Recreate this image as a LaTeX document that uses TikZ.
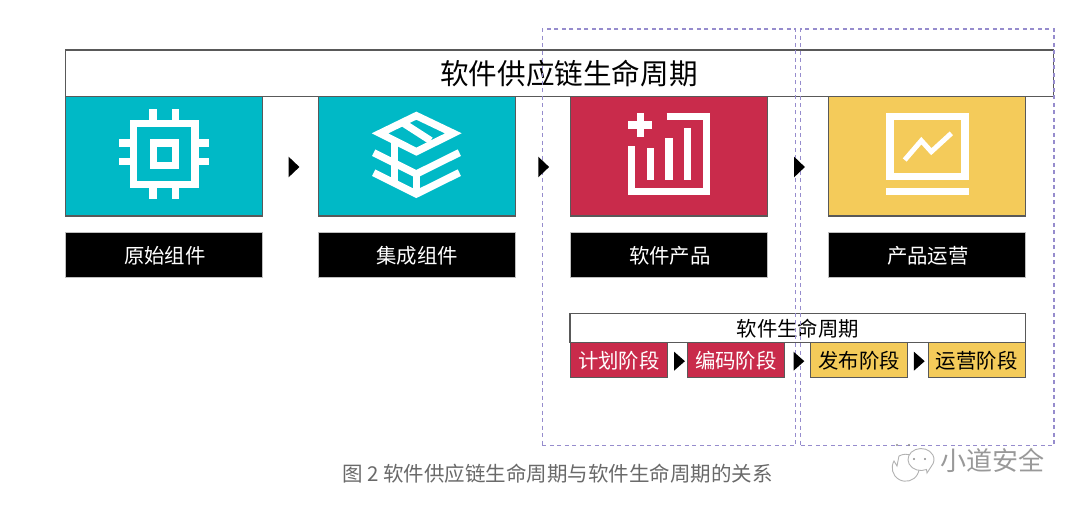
\documentclass[tikz,border=0pt]{standalone}
\usepackage{fontspec}
\setmainfont{Noto Sans CJK SC}
\definecolor{tealbox}{RGB}{0,185,198}
\definecolor{redbox}{RGB}{201,43,75}
\definecolor{yellowbox}{RGB}{244,203,90}
\definecolor{dashpurple}{RGB}{150,140,205}
\definecolor{captiongray}{RGB}{105,105,105}
\usetikzlibrary{
  shapes.geometric,
  positioning
}

\begin{document}
\begin{tikzpicture}[
  x=1pt, y=-1pt,
  titlebox/.style={rectangle, draw=black!65, fill=white, line width=1.2pt, inner sep=0pt, outer sep=0pt},
  imgbox/.style={rectangle, draw=black!65, line width=1.2pt, minimum width=197pt, minimum height=119.3pt, inner sep=0pt, outer sep=0pt},
  namebox/.style={rectangle, draw=black!25, fill=black, text=white, line width=.6pt, minimum width=197pt, minimum height=44.6pt, text height=17pt, text depth=1pt, font=\fontsize{20.4}{24}\selectfont, inner sep=0pt, outer sep=0pt},
  stagebox/.style={rectangle, draw=black!65, line width=1.2pt, minimum width=97pt, minimum height=35pt, text height=18pt, text depth=1pt, font=\fontsize{20.4}{24}\selectfont, inner sep=0pt, outer sep=0pt},
  bigtri/.style={isosceles triangle, isosceles triangle apex angle=60, isosceles triangle stretches, fill=black, minimum width=20.6pt, minimum height=10.8pt, inner sep=0pt, outer sep=0pt},
  smalltri/.style={bigtri, minimum width=19pt},
  dashbox/.style={rectangle, draw=dashpurple, dash pattern=on 4pt off 3.5pt, line width=1.3pt, inner sep=0pt, outer sep=0pt},
  icon/.style={draw=white, line width=7.3pt, miter limit=10},
  bubble/.style={draw=black!30, line width=.9pt, fill=white}
]
  \useasboundingbox (0,0) rectangle (1080,506);

  \node[imgbox, fill=tealbox] (raw) at (164.2,156.4) {};
  \node[imgbox, fill=tealbox] (integ) at (416.6,156.4) {};
  \node[imgbox, fill=redbox] (product) at (669.2,156.4) {};
  \node[imgbox, fill=yellowbox] (oper) at (927.2,156.4) {};

  \node[titlebox, minimum width=987.5pt, minimum height=46.7pt, text height=24pt, text depth=2pt, font=\fontsize{28.6}{34}\selectfont] (scl) at (559.5,73.4) {\hspace*{19pt}软件供应链生命周期};

  \node[namebox] (rawname) at (164.2,255) {\hspace*{1.5pt}原始组件};
  \node[namebox] (integname) at (416.6,255) {\hspace*{1.5pt}集成组件};
  \node[namebox] (productname) at (669.2,255) {\hspace*{1.5pt}软件产品};
  \node[namebox] (opername) at (927.2,255) {\hspace*{1.5pt}产品运营};

  \node[titlebox, minimum width=455.5pt, minimum height=29.4pt, text height=17pt, text depth=1pt, font=\fontsize{20.4}{24}\selectfont] (sdl) at (797.8,328) {软件生命周期};
  \node[stagebox, fill=redbox, text=white] (plan) at (618.8,360.2) {计划阶段};
  \node[stagebox, fill=redbox, text=white] (code) at (735.8,360.2) {编码阶段};
  \node[stagebox, fill=yellowbox] (release) at (859.2,360.2) {发布阶段};
  \node[stagebox, fill=yellowbox] (run) at (976.6,360.2) {运营阶段};

  \begin{scope}[shift={(110,100)}, scale=1/3]
    \draw[icon] (71,71) rectangle (255,254);
    \draw[icon] (130,129) rectangle (197,197);
    \foreach \p in {129,196} {
      \draw[icon] (\p,28) -- (\p,60);
      \draw[icon] (\p,265) -- (\p,296);
    }
    \foreach \p in {129,185} {
      \draw[icon] (28,\p) -- (60,\p);
      \draw[icon] (265,\p) -- (296,\p);
    }
  \end{scope}

  \begin{scope}[shift={(362,100)}, scale=1/3]
    \draw[icon] (163,47) -- (274,100) -- (163,155) -- (54,100) -- cycle;
    \draw[icon] (122,68) -- (206,122);
    \draw[icon] (35,158) -- (163,222) -- (292,158);
    \draw[icon] (35,218) -- (163,282) -- (292,218);
    \draw[icon] (97,125) -- (97,250);
    \draw[icon] (163,220) -- (163,280);
  \end{scope}

  \begin{scope}[shift={(615,100)}, scale=1/3]
    \draw[icon] (155,50) -- (275,50) -- (275,275) -- (50,275) -- (50,138);
    \draw[icon] (107,145) -- (107,240);
    \draw[icon] (162,115) -- (162,240);
    \draw[icon] (217,85) -- (217,240);
    \draw[icon] (40,75) -- (112,75);
    \draw[icon] (76,40) -- (76,112);
  \end{scope}

  \begin{scope}[shift={(873,100)}, scale=1/3]
    \draw[icon] (51,50) rectangle (276,230);
    \draw[icon] (40,275) -- (287,275);
    \draw[icon, line width=5pt] (95,180) -- (145,122) -- (175,155) -- (235,100);
  \end{scope}

  \node[dashbox, minimum width=253.4pt, minimum height=416.7pt] (slice1) at (669,237.4) {};
  \node[dashbox, minimum width=253.3pt, minimum height=416.7pt] (slice2) at (927.4,237.4) {};

  \node[bigtri] (go1) at (293,167) {};
  \node[bigtri] (go2) at (542.7,167) {};
  \node[bigtri] (go3) at (798.5,167) {};
  \node[smalltri] (step1) at (678.4,361.2) {};
  \node[smalltri] (step2) at (797.8,361.2) {};
  \node[smalltri] (step3) at (918.2,361.2) {};

  \node[font=\fontsize{20.5}{24}\selectfont, text=captiongray, inner sep=0pt] (caption) at (557.5,474) {图 2 软件供应链生命周期与软件生命周期的关系};

  \draw[bubble, fill opacity=.6] (897,466) -- (894,461) arc (210:-120:13.5 and 13.5) -- cycle;
  \fill[black!45] (897,445) circle (1.2) (909,445) circle (1.2);
  \draw[bubble] (927,473) -- (926.5,469.5) arc (65:395:13 and 11) -- cycle;
  \fill[black!45] (914,459) circle (1.1) (925,459) circle (1.1);
  \node[font=\fontsize{26}{30}\selectfont, text=black!40, inner sep=0pt] (mark) at (992,460) {小道安全};
\end{tikzpicture}
\end{document}
